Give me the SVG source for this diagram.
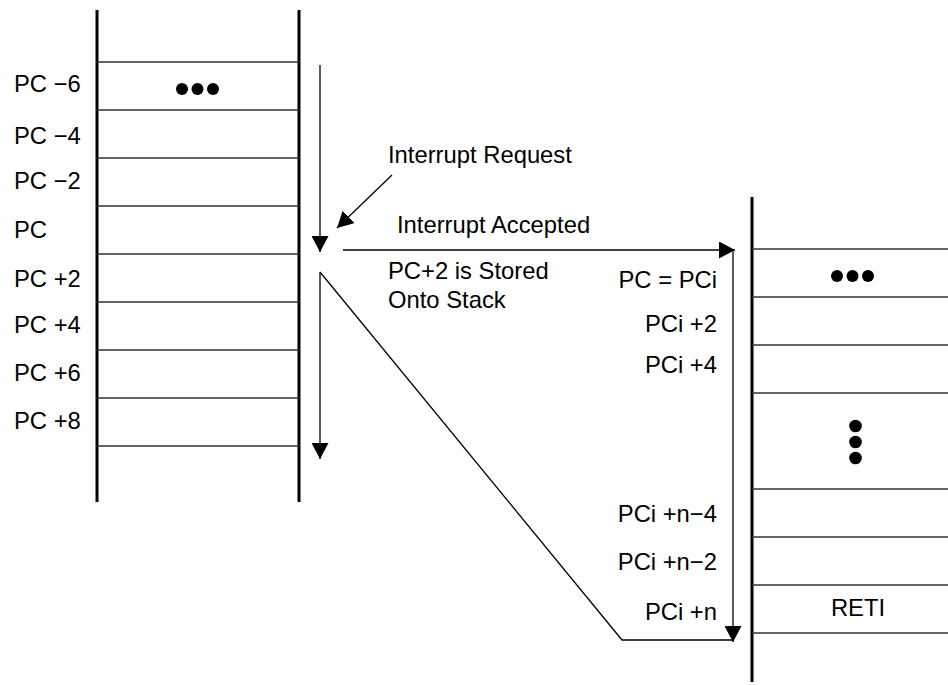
<svg xmlns="http://www.w3.org/2000/svg" width="948" height="685" viewBox="0 0 948 685">
<defs>
<style>
text{font-family:"Liberation Sans",Arial,sans-serif;font-size:23.8px;fill:#000}
.wall{stroke:#000;stroke-width:3;fill:none}
.row{stroke:#333;stroke-width:1.4;fill:none}
.conn{stroke:#000;stroke-width:1.3;fill:none}
.r{text-anchor:end}
.c{text-anchor:middle}
</style>
<marker id="ah" viewBox="0 0 16 17" refX="16" refY="8.5" markerWidth="16" markerHeight="17" markerUnits="userSpaceOnUse" orient="auto">
<path d="M0,0 L16,8.5 L0,17 z" fill="#000"/>
</marker>
</defs>
<rect width="948" height="685" fill="#fff"/>
<g id="main-stack">
<line class="wall" x1="97" y1="10" x2="97" y2="502"/>
<line class="wall" x1="299" y1="10" x2="299" y2="502"/>
<line class="row" x1="97" y1="62" x2="299" y2="62"/>
<line class="row" x1="97" y1="110" x2="299" y2="110"/>
<line class="row" x1="97" y1="158" x2="299" y2="158"/>
<line class="row" x1="97" y1="206" x2="299" y2="206"/>
<line class="row" x1="97" y1="254" x2="299" y2="254"/>
<line class="row" x1="97" y1="302" x2="299" y2="302"/>
<line class="row" x1="97" y1="350" x2="299" y2="350"/>
<line class="row" x1="97" y1="398" x2="299" y2="398"/>
<line class="row" x1="97" y1="446" x2="299" y2="446"/>
<circle cx="182" cy="89" r="6"/>
<circle cx="197.5" cy="89" r="6"/>
<circle cx="213" cy="89" r="6"/>
<text x="14" y="92">PC −6</text>
<text x="14" y="144">PC −4</text>
<text x="14" y="189">PC −2</text>
<text x="14" y="238">PC</text>
<text x="14" y="287">PC +2</text>
<text x="14" y="333">PC +4</text>
<text x="14" y="381">PC +6</text>
<text x="14" y="429">PC +8</text>
</g>
<g id="isr-stack">
<line class="wall" x1="752" y1="197" x2="752" y2="682"/>
<line class="row" x1="752" y1="249" x2="948" y2="249"/>
<line class="row" x1="752" y1="297" x2="948" y2="297"/>
<line class="row" x1="752" y1="345" x2="948" y2="345"/>
<line class="row" x1="752" y1="393" x2="948" y2="393"/>
<line class="row" x1="752" y1="489" x2="948" y2="489"/>
<line class="row" x1="752" y1="537" x2="948" y2="537"/>
<line class="row" x1="752" y1="585" x2="948" y2="585"/>
<line class="row" x1="752" y1="633" x2="948" y2="633"/>
<circle cx="837" cy="276" r="6"/>
<circle cx="852.5" cy="276" r="6"/>
<circle cx="868" cy="276" r="6"/>
<circle cx="855.5" cy="426" r="6.3"/>
<circle cx="855.5" cy="442" r="6.3"/>
<circle cx="855.5" cy="458" r="6.3"/>
<text class="c" x="858" y="616">RETI</text>
<text class="r" x="717" y="288">PC = PCi</text>
<text class="r" x="717" y="332">PCi +2</text>
<text class="r" x="717" y="373">PCi +4</text>
<text class="r" x="717" y="522">PCi +n−4</text>
<text class="r" x="717" y="570">PCi +n−2</text>
<text class="r" x="717" y="620">PCi +n</text>
</g>
<g id="labels">
<text x="388" y="163">Interrupt Request</text>
<text x="397" y="233">Interrupt Accepted</text>
<text x="388" y="279">PC+2 is Stored</text>
<text x="388" y="308">Onto Stack</text>
</g>
<g id="connectors">
<line class="conn" x1="320" y1="65" x2="320" y2="252" marker-end="url(#ah)"/>
<line class="conn" x1="392" y1="175" x2="337" y2="228" marker-end="url(#ah)"/>
<line class="conn" x1="343" y1="250" x2="735" y2="250" marker-end="url(#ah)"/>
<line class="conn" x1="733" y1="250" x2="733" y2="642" marker-end="url(#ah)"/>
<line class="conn" x1="320" y1="272" x2="320" y2="459" marker-end="url(#ah)"/>
<polyline class="conn" points="320,272 622,640 733,640"/>
</g>
</svg>
